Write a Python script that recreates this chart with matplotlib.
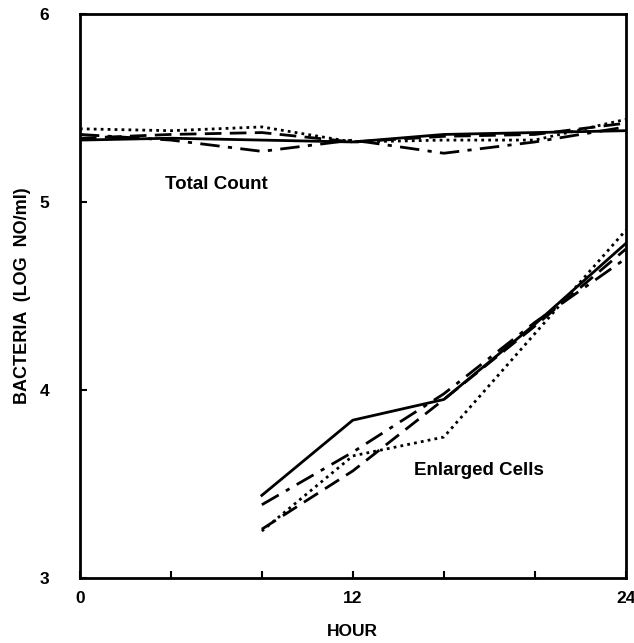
import matplotlib
matplotlib.use('Agg')
import matplotlib.pyplot as plt

# data (hours, log count)
hours_total = [0, 4, 8, 12, 16, 20, 24]
total_solid = [5.33, 5.34, 5.33, 5.32, 5.36, 5.37, 5.38]
total_dashed = [5.34, 5.36, 5.37, 5.32, 5.35, 5.36, 5.42]
total_dashdot = [5.36, 5.33, 5.27, 5.33, 5.26, 5.32, 5.40]
total_dotted = [5.39, 5.38, 5.40, 5.32, 5.33, 5.33, 5.44]

hours_enl = [8, 12, 16, 20, 24]
enl_solid = [3.44, 3.84, 3.95, 4.35, 4.78]
enl_dashed = [3.26, 3.57, 3.95, 4.34, 4.75]
enl_dashdot = [3.39, 3.67, 3.98, 4.36, 4.70]
enl_dotted = [3.25, 3.65, 3.75, 4.30, 4.85]

plt.rcParams['font.family'] = ['Liberation Sans', 'DejaVu Sans']
plt.rcParams['font.weight'] = 'bold'

fig = plt.figure(figsize=(6.34, 6.43), dpi=100)
ax = fig.add_axes([0.126, 0.101, 0.861, 0.877])

lw = 2.0
ax.plot(hours_total, total_solid, color='black', lw=lw, ls='-')
ax.plot(hours_total, total_dashed, color='black', lw=lw, ls=(0, (6, 3)))
ax.plot(hours_total, total_dashdot, color='black', lw=lw, ls=(0, (7, 3, 1.5, 3)))
ax.plot(hours_total, total_dotted, color='black', lw=lw, ls=(0, (1, 1.5)))

ax.plot(hours_enl, enl_solid, color='black', lw=lw, ls='-')
ax.plot(hours_enl, enl_dashed, color='black', lw=lw, ls=(0, (6, 3)))
ax.plot(hours_enl, enl_dashdot, color='black', lw=lw, ls=(0, (7, 3, 1.5, 3)))
ax.plot(hours_enl, enl_dotted, color='black', lw=lw, ls=(0, (1, 1.5)))

# annotations
ax.text(3.75, 5.095, 'Total Count', fontsize=13.5, fontweight='bold', va='center')
ax.text(14.7, 3.57, 'Enlarged Cells', fontsize=13.5, fontweight='bold', va='center')

ax.set_xlim(0, 24)
ax.set_ylim(3, 6)
ax.set_xticks([0, 12, 24])
ax.set_xticks([4, 8, 16, 20], minor=True)
ax.set_yticks([3, 4, 5, 6])
ax.tick_params(direction='in', length=5, width=1.5, labelsize=12.5)
ax.tick_params(axis='x', pad=9)
ax.tick_params(axis='y', pad=22)
ax.tick_params(which='minor', direction='in', length=5, width=1.5)
for lab in ax.get_xticklabels() + ax.get_yticklabels():
    lab.set_fontweight('bold')
for s in ax.spines.values():
    s.set_linewidth(2)

ax.set_xlabel('HOUR', fontsize=12.5, fontweight='bold', labelpad=13)
ax.set_ylabel('BACTERIA  (LOG  NO/ml)', fontsize=13, fontweight='bold', labelpad=6)

fig.savefig('out.png', dpi=100)
